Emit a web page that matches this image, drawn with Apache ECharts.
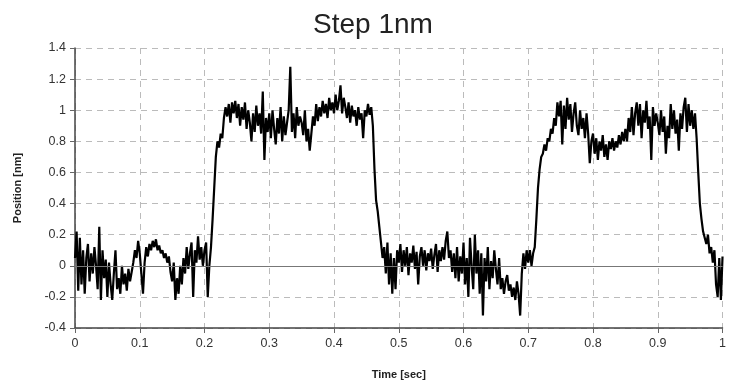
<!DOCTYPE html>
<html>
<head>
<meta charset="utf-8">
<script src="https://cdn.jsdelivr.net/npm/echarts@6/dist/echarts.min.js"></script>
<style>
  html, body { margin: 0; padding: 0; background: #fff; }
  #chart { width: 729px; height: 385px; }
</style>
</head>
<body>
<div id="chart"></div>
<script>
// sample spacing of the recorded trace (sec)
var sampleStep = 0.0025;

// position [nm], 20 samples per 0.05 s
var position = [
  // 0.00 - 0.05
  0.05, 0.22, -0.16, 0.18, -0.12, 0.1, -0.18, 0.05, 0.14, -0.1, 0.08, -0.05, 0.12, 0.0, -0.15, 0.25, -0.22, 0.1, -0.08, 0.04,
  // 0.05 - 0.10
  -0.2, 0.02, -0.12, -0.22, -0.05, 0.1, -0.15, -0.08, -0.18, 0.0, -0.12, -0.05, -0.16, -0.02, -0.1, -0.04, 0.02, 0.1, 0.05, 0.16,
  // 0.10 - 0.15
  0.08, -0.05, -0.18, 0.02, 0.12, 0.06, 0.14, 0.1, 0.16, 0.12, 0.17, 0.1, 0.13, 0.08, 0.1, 0.05, 0.08, 0.02, 0.06, -0.04,
  // 0.15 - 0.20
  -0.1, 0.02, -0.22, -0.08, -0.18, 0.0, -0.12, 0.05, -0.05, 0.12, -0.02, 0.08, 0.15, -0.2, 0.1, 0.02, 0.19, 0.04, 0.12, 0.0,
  // 0.20 - 0.25 (step up)
  0.1, 0.15, -0.2, 0.0, 0.12, 0.3, 0.5, 0.7, 0.8, 0.76, 0.85, 0.82, 0.95, 1.02, 0.96, 1.04, 0.92, 1.05, 0.98, 1.06,
  // 0.25 - 0.30
  0.95, 1.04, 0.9, 1.02, 0.94, 1.05, 0.88, 1.0, 0.92, 0.8, 0.98, 0.86, 1.03, 0.9, 0.98, 0.85, 1.12, 0.68, 0.95, 0.86,
  // 0.30 - 0.35
  0.98, 0.82, 1.0, 0.88, 0.78, 0.95, 0.85, 1.02, 0.8, 0.96, 0.84, 0.92, 1.0, 1.28, 0.86, 0.98, 0.82, 1.02, 0.9, 0.96,
  // 0.35 - 0.40
  0.92, 0.84, 1.0, 0.8, 0.88, 0.74, 0.85, 0.96, 0.9, 1.04, 0.93, 1.02, 0.96, 1.06, 0.98, 1.04, 0.95, 1.08, 1.0, 1.05,
  // 0.40 - 0.45
  0.98, 1.1, 1.0, 1.06, 1.16, 0.98, 1.08, 1.02, 0.95, 1.05, 0.92, 1.03, 0.96, 1.0, 0.9, 1.02, 0.94, 0.98, 0.82, 1.0,
  // 0.45 - 0.50 (step down)
  0.96, 1.04, 0.97, 1.02, 0.9, 0.62, 0.42, 0.35, 0.25, 0.15, 0.05, 0.12, -0.05, 0.15, -0.12, 0.08, -0.18, 0.05, -0.15, 0.1,
  // 0.50 - 0.55
  0.02, 0.14, -0.04, 0.1, 0.0, 0.12, -0.06, 0.08, 0.02, 0.13, -0.02, 0.09, -0.12, 0.06, 0.12, 0.0, 0.1, -0.03, 0.08, 0.03,
  // 0.55 - 0.60
  0.11, -0.02, 0.07, 0.14, -0.04, 0.1, 0.03, 0.12, 0.04, 0.16, 0.22, 0.05, 0.1, -0.04, 0.08, -0.08, 0.12, -0.1, 0.06, -0.05,
  // 0.60 - 0.65
  0.15, -0.12, 0.05, -0.2, 0.18, 0.0, -0.15, 0.2, -0.05, 0.1, -0.18, 0.08, -0.32, 0.05, -0.1, 0.12, -0.15, 0.03, -0.08, 0.1,
  // 0.65 - 0.70
  -0.02, -0.12, 0.05, -0.15, -0.08, -0.18, -0.1, -0.06, -0.16, -0.12, -0.2, -0.14, -0.22, -0.1, -0.18, -0.32, -0.05, 0.08, -0.02, 0.1,
  // 0.70 - 0.75 (step up)
  0.02, 0.1, 0.0, 0.08, 0.12, 0.3, 0.5, 0.62, 0.7, 0.72, 0.78, 0.74, 0.82, 0.8, 0.88, 0.85, 0.95, 0.9, 1.05, 0.96,
  // 0.75 - 0.80
  1.06, 0.78, 1.03, 0.88, 1.08, 0.94, 1.04, 0.86, 0.98, 1.05, 0.9, 0.84, 1.0, 0.88, 0.95, 0.82, 0.98, 0.85, 0.66, 0.8,
  // 0.80 - 0.85
  0.85, 0.72, 0.82, 0.68, 0.8, 0.74, 0.84, 0.7, 0.78, 0.68, 0.8, 0.75, 0.82, 0.74, 0.8, 0.76, 0.84, 0.78, 0.86, 0.8,
  // 0.85 - 0.90
  0.88, 0.8, 0.95, 0.86, 1.02, 0.84, 0.98, 1.05, 0.9, 1.04, 0.82, 1.0, 0.92, 1.06, 0.88, 0.96, 0.68, 1.02, 0.9, 0.98,
  // 0.90 - 0.95
  0.92, 0.84, 1.0, 0.86, 0.96, 0.72, 0.9, 0.82, 1.04, 0.88, 1.0, 0.85, 0.94, 0.74, 0.98, 0.88, 1.02, 1.08, 0.86, 1.04,
  // 0.95 - 1.00 (step down)
  0.9, 1.0, 0.88, 0.98, 0.82, 0.6, 0.4, 0.3, 0.22, 0.18, 0.14, 0.2, 0.08, 0.12, 0.02, 0.1, -0.12, -0.2, 0.05, -0.22,
  0.06
];

var chartDom = document.getElementById("chart");
var myChart = echarts.init(chartDom);

var option = {
  animation: false,
  title: {
    text: "Step 1nm",
    left: 308,
    top: 6,
    textStyle: {
      fontFamily: "Liberation Sans",
      fontSize: 28,
      fontWeight: "normal",
      color: "#222"
    }
  },
  grid: {
    left: 75,
    right: 2,
    top: 48,
    bottom: 55
  },
  xAxis: {
    type: "value",
    min: 0,
    max: 1,
    interval: 0.1,
    name: "Time [sec]",
    nameLocation: "middle",
    nameGap: 41,
    nameTextStyle: {
      fontFamily: "Liberation Sans",
      fontSize: 11,
      fontWeight: "bold",
      color: "#222"
    },
    axisLine: { onZero: false, lineStyle: { color: "#444", width: 1.5 } },
    axisTick: { show: true, length: 5, lineStyle: { color: "#666" } },
    axisLabel: { fontFamily: "Liberation Sans", fontSize: 12.5, color: "#333", margin: 9 },
    splitLine: { show: true, lineStyle: { color: "#bbb", type: [6, 5] } }
  },
  yAxis: {
    type: "value",
    min: -0.4,
    max: 1.4,
    interval: 0.2,
    name: "Position [nm]",
    nameLocation: "middle",
    nameGap: 52,
    nameTextStyle: {
      fontFamily: "Liberation Sans",
      fontSize: 11,
      fontWeight: "bold",
      color: "#222"
    },
    axisLine: { show: true, onZero: false, lineStyle: { color: "#444", width: 1.5 } },
    axisTick: { show: true, length: 5, lineStyle: { color: "#666" } },
    axisLabel: { fontFamily: "Liberation Sans", fontSize: 12.5, color: "#333", margin: 9 },
    splitLine: { show: true, lineStyle: { color: "#bbb", type: [6, 5] } }
  },
  series: [
    {
      name: "Position",
      type: "line",
      showSymbol: false,
      symbol: "none",
      lineStyle: { color: "#000", width: 2.2 },
      data: position.map(function(v, i) {
        return [i * sampleStep, v];
      }),
      markLine: {
        silent: true,
        symbol: "none",
        label: { show: false },
        lineStyle: { color: "#777", type: "solid", width: 1 },
        data: [{ yAxis: 0 }]
      }
    }
  ]
};

myChart.setOption(option);
</script>
</body>
</html>
